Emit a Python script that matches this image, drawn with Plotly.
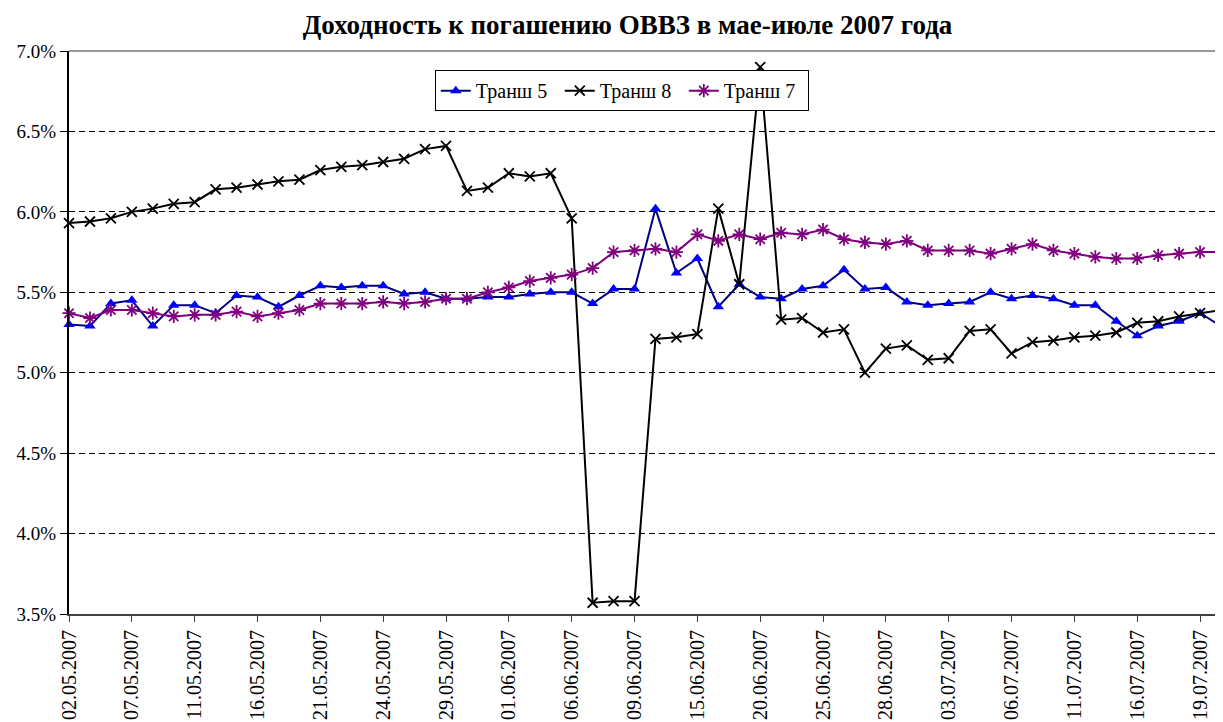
import plotly.graph_objects as go

dates = [
    "02.05.2007", "03.05.2007", "04.05.2007", "07.05.2007", "08.05.2007", "10.05.2007",
    "11.05.2007", "14.05.2007", "15.05.2007", "16.05.2007", "17.05.2007", "18.05.2007",
    "21.05.2007", "22.05.2007", "23.05.2007", "24.05.2007", "25.05.2007", "28.05.2007",
    "29.05.2007", "30.05.2007", "31.05.2007", "01.06.2007", "04.06.2007", "05.06.2007",
    "06.06.2007", "07.06.2007", "08.06.2007", "09.06.2007", "13.06.2007", "14.06.2007",
    "15.06.2007", "18.06.2007", "19.06.2007", "20.06.2007", "21.06.2007", "22.06.2007",
    "25.06.2007", "26.06.2007", "27.06.2007", "28.06.2007", "29.06.2007", "02.07.2007",
    "03.07.2007", "04.07.2007", "05.07.2007", "06.07.2007", "09.07.2007", "10.07.2007",
    "11.07.2007", "12.07.2007", "13.07.2007", "16.07.2007", "17.07.2007", "18.07.2007",
    "19.07.2007", "20.07.2007",
]

tick_labels = [
    "02.05.2007", "07.05.2007", "11.05.2007", "16.05.2007", "21.05.2007", "24.05.2007",
    "29.05.2007", "01.06.2007", "06.06.2007", "09.06.2007", "15.06.2007", "20.06.2007",
    "25.06.2007", "28.06.2007", "03.07.2007", "06.07.2007", "11.07.2007", "16.07.2007",
    "19.07.2007",
]

y_ticks = [3.5, 4.0, 4.5, 5.0, 5.5, 6.0, 6.5, 7.0]

tranche5 = [
    5.30, 5.29, 5.43, 5.45, 5.29, 5.42, 5.42, 5.37, 5.48, 5.47, 5.41, 5.48,
    5.54, 5.53, 5.54, 5.54, 5.49, 5.50, 5.46, 5.46, 5.47, 5.47, 5.49, 5.50,
    5.50, 5.43, 5.52, 5.52, 6.02, 5.62, 5.71, 5.41, 5.55, 5.47, 5.46, 5.52,
    5.54, 5.64, 5.52, 5.53, 5.44, 5.42, 5.43, 5.44, 5.50, 5.46, 5.48, 5.46,
    5.42, 5.42, 5.32, 5.23, 5.29, 5.32, 5.37, 5.29,
]

tranche8 = [
    5.93, 5.94, 5.96, 6.00, 6.02, 6.05, 6.06, 6.14, 6.15, 6.17, 6.19, 6.20,
    6.26, 6.28, 6.29, 6.31, 6.33, 6.39, 6.41, 6.13, 6.15, 6.24, 6.22, 6.24,
    5.96, 3.57, 3.58, 3.58, 5.21, 5.22, 5.24, 6.02, 5.55, 6.90, 5.33, 5.34,
    5.25, 5.27, 5.00, 5.15, 5.17, 5.08, 5.09, 5.26, 5.27, 5.12, 5.19, 5.20,
    5.22, 5.23, 5.25, 5.31, 5.32, 5.35, 5.37, 5.39,
]

tranche7 = [
    5.37, 5.34, 5.39, 5.39, 5.37, 5.35, 5.36, 5.36, 5.38, 5.35, 5.37, 5.39,
    5.43, 5.43, 5.43, 5.44, 5.43, 5.44, 5.46, 5.46, 5.50, 5.53, 5.57, 5.59,
    5.61, 5.65, 5.75, 5.76, 5.77, 5.75, 5.86, 5.82, 5.86, 5.83, 5.87, 5.86,
    5.89, 5.83, 5.81, 5.80, 5.82, 5.76, 5.76, 5.76, 5.74, 5.77, 5.80, 5.76,
    5.74, 5.72, 5.71, 5.71, 5.73, 5.74, 5.75, 5.75,
]

SERIF = "Liberation Serif, Times New Roman, serif"

# The page body adds an 8px margin, so the figure is sized/offset to compensate.
W, H = 1215, 714

fig = go.Figure()
fig.add_trace(go.Scatter(
    x=dates, y=tranche5, name="Транш 5", mode="lines+markers",
    line=dict(color="#000080", width=2),
    marker=dict(symbol="triangle-up", size=10, color="#0000FF"),
    cliponaxis=False,
))
fig.add_trace(go.Scatter(
    x=dates, y=tranche8, name="Транш 8", mode="lines+markers",
    line=dict(color="#000000", width=2),
    marker=dict(symbol="x-thin", size=10, color="#000000",
                line=dict(color="#000000", width=1.8)),
    cliponaxis=False,
))
fig.add_trace(go.Scatter(
    x=dates, y=tranche7, name="Транш 7", mode="lines+markers",
    line=dict(color="#800080", width=2),
    marker=dict(symbol="asterisk", size=11, color="#800080",
                line=dict(color="#800080", width=1.8)),
    cliponaxis=False,
))

fig.update_layout(
    width=W, height=H,
    margin=dict(l=61, r=2, t=43, b=108, autoexpand=False),
    paper_bgcolor="white", plot_bgcolor="white",
    font=dict(family=SERIF, size=19, color="black"),
    title=dict(
        text="<b>Доходность к погашению ОВВЗ в мае-июле 2007 года</b>",
        font=dict(family=SERIF, size=27, color="black"),
        x=619.5 / W, xref="container", xanchor="center",
        y=1 - 17 / H, yref="container", yanchor="middle",
    ),
    showlegend=True,
    legend=dict(
        orientation="h",
        x=(435 - 69.3) / 1151.7, y=0.966, xanchor="left", yanchor="top",
        bgcolor="white", bordercolor="black", borderwidth=1,
        font=dict(family=SERIF, size=20, color="black"),
        itemwidth=30, tracegroupgap=0,
        entrywidth=79, entrywidthmode="pixels",
    ),
    xaxis=dict(
        type="category",
        categoryorder="array", categoryarray=dates,
        range=[0, len(dates) - 1],
        tickmode="array", tickvals=tick_labels, ticktext=tick_labels,
        tickangle=-90,
        ticks="outside", ticklen=6, tickcolor="#404040", tickwidth=1,
        showline=True, linecolor="#404040", linewidth=2,
        showgrid=False, zeroline=False,
        tickfont=dict(family=SERIF, size=20, color="black"),
        automargin=False,
    ),
    yaxis=dict(
        range=[3.5, 7.0],
        tickmode="array", tickvals=y_ticks,
        ticktext=[f"{v:.1f}%" for v in y_ticks],
        ticks="outside", ticklen=7, tickcolor="black", tickwidth=1,
        showline=True, linecolor="black", linewidth=2,
        showgrid=True, gridcolor="black", gridwidth=1, griddash="6px,4px",
        zeroline=False,
        tickfont=dict(family=SERIF, size=19, color="black"),
        automargin=False,
    ),
    shapes=[
        dict(type="line", xref="paper", yref="paper", x0=0, x1=1, y0=1, y1=1,
             line=dict(color="#999999", width=2), layer="above"),
        dict(type="line", xref="paper", yref="paper", x0=1, x1=1, y0=0, y1=1,
             line=dict(color="#999999", width=2), layer="above"),
    ],
)

fig.write_html("out.html")
